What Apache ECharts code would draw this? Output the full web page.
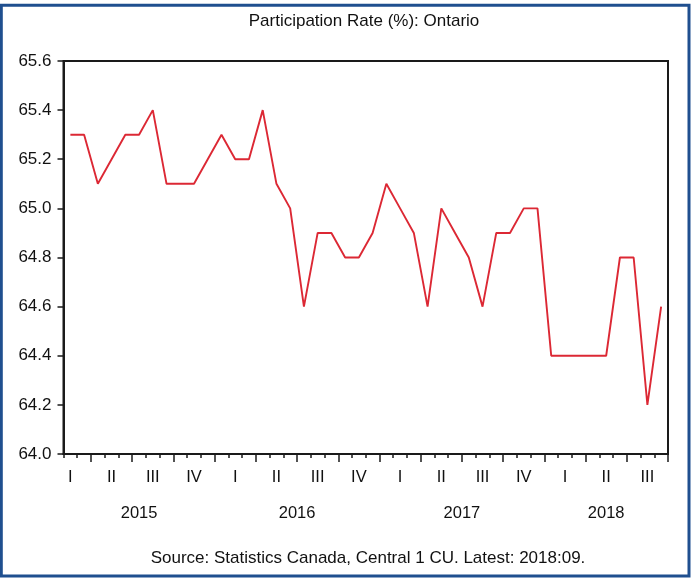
<!DOCTYPE html>
<html>
<head>
<meta charset="utf-8">
<script src="https://cdn.jsdelivr.net/npm/echarts@6/dist/echarts.min.js"></script>
<style>
  html, body { margin: 0; padding: 0; background: #ffffff; }
  #chart { width: 692px; height: 580px; }
</style>
</head>
<body>
<div id="chart"></div>
<script>
// ---- data (monthly, Feb 2015 .. Sep 2018) ----
const months = [
  '2015-02','2015-03','2015-04','2015-05','2015-06','2015-07','2015-08','2015-09','2015-10','2015-11','2015-12',
  '2016-01','2016-02','2016-03','2016-04','2016-05','2016-06','2016-07','2016-08','2016-09','2016-10','2016-11','2016-12',
  '2017-01','2017-02','2017-03','2017-04','2017-05','2017-06','2017-07','2017-08','2017-09','2017-10','2017-11','2017-12',
  '2018-01','2018-02','2018-03','2018-04','2018-05','2018-06','2018-07','2018-08','2018-09'
];
const participationRate = [
  65.3, 65.3, 65.1, 65.2, 65.3, 65.3, 65.4, 65.1, 65.1, 65.1, 65.2,
  65.3, 65.2, 65.2, 65.4, 65.1, 65.0, 64.6, 64.9, 64.9, 64.8, 64.8, 64.9,
  65.1, 65.0, 64.9, 64.6, 65.0, 64.9, 64.8, 64.6, 64.9, 64.9, 65.0, 65.0,
  64.4, 64.4, 64.4, 64.4, 64.4, 64.8, 64.8, 64.2, 64.6
];
const quarterLabels = ['I', 'II', 'III', 'IV'];
const yTicks = [64.0, 64.2, 64.4, 64.6, 64.8, 65.0, 65.2, 65.4, 65.6];
const titleText = 'Participation Rate (%): Ontario';
const sourceText = 'Source: Statistics Canada, Central 1 CU. Latest: 2018:09.';

// ---- derived helpers ----
const monthNum = m => parseInt(m.slice(5, 7), 10);
const yearOf = m => m.slice(0, 4);
// year label at center of the months present for that year (in month-band units)
const yearCenters = {};
months.forEach((m, i) => {
  const y = yearOf(m);
  if (!yearCenters[y]) yearCenters[y] = { first: i, last: i };
  yearCenters[y].last = i;
});
const yearPos = Object.keys(yearCenters).map(y => ({ year: y, pos: (yearCenters[y].first + yearCenters[y].last + 1) / 2 }));

const FONT = 'Liberation Sans, Arial, Helvetica, sans-serif';
const INK = '#111111';
const AXIS = '#1a1a1a';

const chart = echarts.init(document.getElementById('chart'), null, { renderer: 'canvas' });
chart.setOption({
  backgroundColor: '#ffffff',
  animation: false,
  title: [
    {
      text: titleText, left: 364, top: 13, padding: 0, textAlign: 'center',
      textStyle: { fontFamily: FONT, fontSize: 17, fontWeight: 'normal', color: INK }
    },
    {
      text: sourceText, left: 368, top: 550, padding: 0, textAlign: 'center',
      textStyle: { fontFamily: FONT, fontSize: 17, fontWeight: 'normal', color: INK }
    }
  ],
  grid: {
    left: 63.5, top: 61, right: 24, bottom: 126,
    show: true, borderColor: AXIS, borderWidth: 2, backgroundColor: 'transparent',
    containLabel: false
  },
  xAxis: [
    { // minor month ticks + axis line
      type: 'category', data: months, boundaryGap: true, position: 'bottom',
      axisLine: { show: true, onZero: false, lineStyle: { color: AXIS, width: 2 } },
      axisTick: { show: true, interval: 0, length: 4, lineStyle: { color: AXIS, width: 1.5 } },
      axisLabel: { show: false }, splitLine: { show: false }
    },
    { // quarter ticks and quarter labels
      type: 'category', data: months, boundaryGap: true, position: 'bottom',
      axisLine: { show: false, onZero: false },
      axisTick: {
        show: true, length: 8, lineStyle: { color: AXIS, width: 1.5 },
        interval: (i) => [1, 4, 7, 10].indexOf(monthNum(months[i])) >= 0
      },
      axisLabel: {
        show: true, margin: 15, fontFamily: FONT, fontSize: 16.5, color: INK,
        interval: (i) => [2, 5, 8, 11].indexOf(monthNum(months[i])) >= 0,
        formatter: (v) => quarterLabels[Math.floor((monthNum(v) - 1) / 3)]
      },
      splitLine: { show: false }
    },
    { // year labels
      type: 'value', min: 0, max: months.length, interval: 0.5, position: 'bottom',
      axisLine: { show: false, onZero: false }, axisTick: { show: false }, splitLine: { show: false },
      axisLabel: {
        show: true, margin: 51, fontFamily: FONT, fontSize: 16.5, color: INK,
        showMinLabel: true, showMaxLabel: true,
        formatter: (v) => {
          const hit = yearPos.find(p => Math.abs(p.pos - v) < 1e-6);
          return hit ? hit.year : '';
        }
      }
    }
  ],
  yAxis: {
    type: 'value', min: yTicks[0], max: yTicks[yTicks.length - 1], interval: 0.2,
    axisLine: { show: true, lineStyle: { color: AXIS, width: 2 } },
    axisTick: { show: true, length: 6, lineStyle: { color: AXIS, width: 1.5 } },
    splitLine: { show: false },
    axisLabel: {
      margin: 12, fontFamily: FONT, fontSize: 17, color: INK,
      formatter: (v) => v.toFixed(1)
    }
  },
  series: [{
    type: 'line', name: 'Participation Rate', data: participationRate,
    xAxisIndex: 0, yAxisIndex: 0,
    symbol: 'none', smooth: false,
    lineStyle: { color: '#dc2834', width: 1.9 },
    itemStyle: { color: '#dc2834' }
  }],
  graphic: [{
    type: 'rect', silent: true, z: 100,
    shape: { x: 1.3, y: 5.3, width: 687.7, height: 570.7 },
    style: { fill: 'none', stroke: '#1f4f8f', lineWidth: 3 }
  }]
});
</script>
</body>
</html>
